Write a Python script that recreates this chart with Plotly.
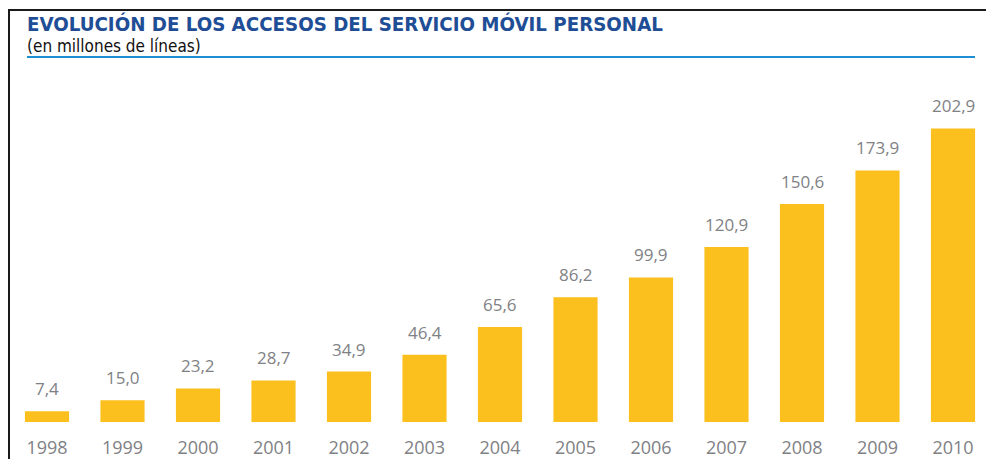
import plotly.graph_objects as go

years = ["1998", "1999", "2000", "2001", "2002", "2003", "2004", "2005", "2006", "2007", "2008", "2009", "2010"]
values = [7.4, 15.0, 23.2, 28.7, 34.9, 46.4, 65.6, 86.2, 99.9, 120.9, 150.6, 173.9, 202.9]
value_labels = [f"{v:.1f}".replace(".", ",") for v in values]

title_text = "EVOLUCIÓN DE LOS ACCESOS DEL SERVICIO MÓVIL PERSONAL"
subtitle_text = "(en millones de líneas)"

W, H = 986, 459
top_px, bot_px = 60, 425
plot_h = bot_px - top_px
px_per_unit = (425 - 129) / 202.9
ymax = plot_h / px_per_unit


def py(p):
    return (bot_px - p) / plot_h


def px(p):
    return p / W


xs = list(range(len(years)))
fig = go.Figure()
fig.add_trace(go.Bar(
    x=xs, y=values,
    marker=dict(color="#FBC01E", line=dict(width=0)),
    hoverinfo="skip",
))

annotations = [
    dict(x=x, y=v, xref="x", yref="y", text=t, showarrow=False,
         yanchor="bottom", yshift=9,
         font=dict(family="Open Sans", size=17, color="#7F8185"))
    for x, v, t in zip(xs, values, value_labels)
]
annotations += [
    dict(text="<b>" + title_text + "</b>", xref="paper", yref="paper",
         x=px(25), y=py(10), xanchor="left", yanchor="top", showarrow=False,
         font=dict(family="DejaVu Sans Condensed", size=20.3, color="#1F4E96")),
    dict(text=subtitle_text, xref="paper", yref="paper",
         x=px(25), y=py(34), xanchor="left", yanchor="top", showarrow=False,
         font=dict(family="DejaVu Sans Condensed", size=17, color="#111111")),
]

fig.update_layout(
    width=W, height=H,
    margin=dict(l=0, r=0, t=top_px, b=H - bot_px, pad=0),
    paper_bgcolor="white", plot_bgcolor="white",
    bargap=0.415,
    showlegend=False,
    xaxis=dict(
        range=[-47 / 75.5, (986 - 47) / 75.5],
        tickmode="array", tickvals=xs, ticktext=years,
        showgrid=False, zeroline=False, showline=False, ticks="",
        ticklabelstandoff=13,
        tickfont=dict(family="Open Sans", size=18, color="#7F8185"),
    ),
    yaxis=dict(range=[0, ymax], visible=False),
    shapes=[
        dict(type="line", xref="paper", yref="paper", x0=px(8), x1=px(990), y0=py(9.5), y1=py(9.5),
             line=dict(color="#1a1a1a", width=2)),
        dict(type="line", xref="paper", yref="paper", x0=px(9), x1=px(9), y0=py(470), y1=py(9.5),
             line=dict(color="#1a1a1a", width=2)),
        dict(type="line", xref="paper", yref="paper", x0=px(27), x1=px(975), y0=py(57), y1=py(57),
             line=dict(color="#1E8FD5", width=2)),
    ],
    annotations=annotations,
)

fig.write_html("out.html", config={"displayModeBar": False},
               post_script="document.body.style.margin='0';document.body.style.overflow='hidden';")
